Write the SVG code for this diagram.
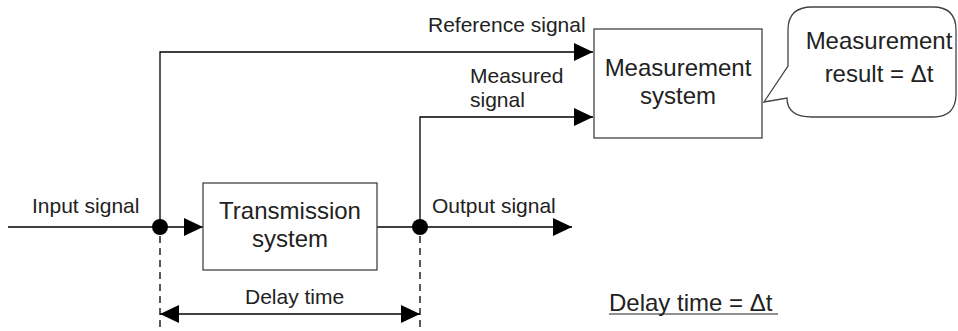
<svg xmlns="http://www.w3.org/2000/svg" width="958" height="331" viewBox="0 0 958 331">
<style>
  text { font-family: "Liberation Sans", Arial, sans-serif; fill: #222; }
  .lbl { font-size: 21px; }
  .big { font-size: 24px; }
  .box { fill: #fff; stroke: #444; stroke-width: 1.3; }
  .wire { fill: none; stroke: #000; stroke-width: 1.3; }
  .dash { fill: none; stroke: #000; stroke-width: 1.3; stroke-dasharray: 7 5; }
  .dot { fill: #000; }
</style>
<defs>
  <marker id="arr" markerUnits="userSpaceOnUse" markerWidth="19" markerHeight="18" refX="19" refY="9" orient="auto-start-reverse">
    <path d="M0,0 L19,9 L0,18 Z" fill="#000"/>
  </marker>
</defs>
<g id="connectors">
  <path class="wire" d="M8,227 H203" marker-end="url(#arr)"/>
  <path class="wire" d="M160,227 V52 H593" marker-end="url(#arr)"/>
  <path class="wire" d="M377,227 H572" marker-end="url(#arr)"/>
  <path class="wire" d="M420,227 V117 H593" marker-end="url(#arr)"/>
  <path class="wire" d="M160,314 H420" marker-start="url(#arr)" marker-end="url(#arr)"/>
  <path class="dash" d="M160,236 V331"/>
  <path class="dash" d="M420,236 V331"/>
  <circle class="dot" cx="160" cy="227" r="8"/>
  <circle class="dot" cx="420" cy="227" r="8"/>
  <text class="lbl" x="428" y="32">Reference signal</text>
  <text class="lbl" x="470" y="83">Measured</text>
  <text class="lbl" x="470" y="107">signal</text>
  <text class="lbl" x="32" y="213">Input signal</text>
  <text class="lbl" x="432" y="213">Output signal</text>
  <text class="lbl" x="245" y="304">Delay time</text>
</g>
<g id="transmission">
  <rect class="box" x="203" y="183" width="174" height="87"/>
  <text class="big" x="290" y="219" text-anchor="middle">Transmission</text>
  <text class="big" x="290" y="247" text-anchor="middle">system</text>
</g>
<g id="measurement">
  <rect class="box" x="594" y="29" width="168" height="109"/>
  <text class="big" x="678" y="76" text-anchor="middle">Measurement</text>
  <text class="big" x="678" y="104" text-anchor="middle">system</text>
</g>
<g id="result">
  <path class="box" d="M812,7 H933 Q956,7 956,30 V94 Q956,117 933,117 H812 Q787,117 787,98 L764,102 L788,66 V30 Q788,7 812,7 Z"/>
  <text class="big" x="879" y="49" text-anchor="middle">Measurement</text>
  <text class="big" x="879" y="82" text-anchor="middle">result = Δt</text>
</g>
<g id="formula">
  <text class="big" x="609" y="311">Delay time = Δt</text>
  <line x1="609" y1="314" x2="778" y2="314" stroke="#222" stroke-width="1.2"/>
</g>
</svg>
